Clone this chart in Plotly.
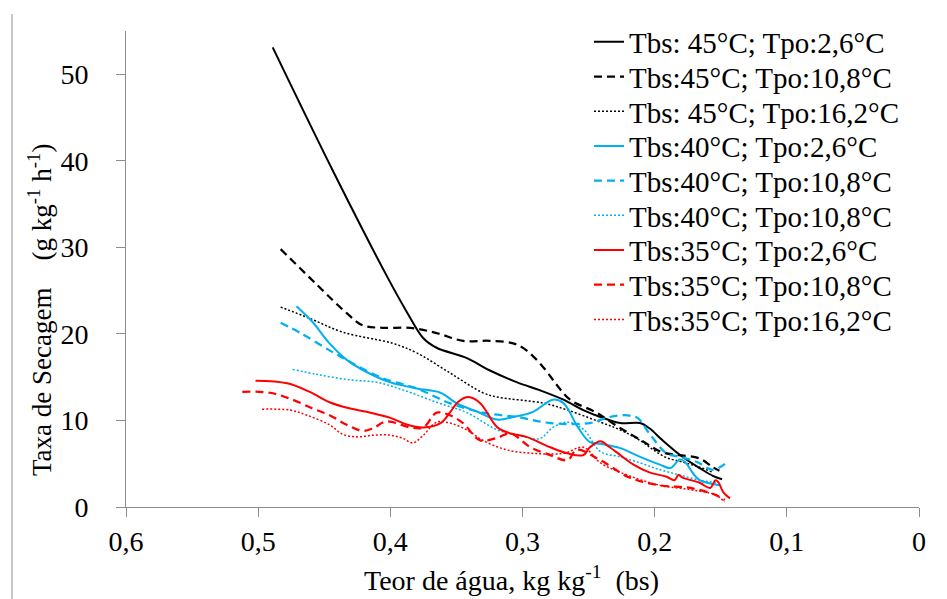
import plotly.graph_objects as go

# ---------------- data ----------------
series_names = [
    "Tbs: 45°C; Tpo:2,6°C",
    "Tbs:45°C; Tpo:10,8°C",
    "Tbs: 45°C; Tpo:16,2°C",
    "Tbs:40°C; Tpo:2,6°C",
    "Tbs:40°C; Tpo:10,8°C",
    "Tbs:40°C; Tpo:10,8°C",
    "Tbs:35°C; Tpo:2,6°C",
    "Tbs:35°C; Tpo:10,8°C",
    "Tbs:35°C; Tpo:16,2°C",
]

x_45_26 = [0.489, 0.443, 0.402, 0.387, 0.375, 0.365, 0.342, 0.325, 0.304, 0.287, 0.269, 0.254,
           0.241, 0.226, 0.211, 0.204, 0.194, 0.179, 0.166, 0.156, 0.149]
y_45_26 = [53.1, 38.7, 26.5, 22.4, 19.5, 18.4, 17.2, 15.8, 14.4, 13.5, 12.4, 11.2,
           10.4, 9.7, 9.7, 9.1, 7.7, 5.8, 4.5, 3.6, 3.2]

x_45_108 = [0.483, 0.455, 0.433, 0.421, 0.406, 0.385, 0.365, 0.345, 0.325, 0.307, 0.297, 0.284,
            0.274, 0.264, 0.244, 0.229, 0.209, 0.194, 0.181, 0.166, 0.156, 0.151]
y_45_108 = [29.8, 25.6, 22.4, 21.0, 20.7, 20.7, 20.1, 19.2, 19.2, 18.9, 18.1, 16.1,
            14.1, 12.4, 10.9, 9.4, 7.6, 6.3, 6.0, 5.6, 4.6, 4.2]

x_45_162 = [0.483, 0.461, 0.436, 0.398, 0.380, 0.355, 0.330, 0.319, 0.284, 0.266, 0.241, 0.226,
            0.209, 0.201, 0.191, 0.179, 0.166, 0.156]
y_45_162 = [23.1, 21.8, 20.2, 18.9, 17.8, 15.5, 13.2, 12.7, 12.0, 11.2, 9.8, 8.9,
            7.5, 6.6, 5.7, 5.2, 4.6, 4.0]

x_40_26 = [0.471, 0.459, 0.446, 0.433, 0.418, 0.400, 0.380, 0.362, 0.350, 0.334, 0.319, 0.307,
           0.292, 0.277, 0.269, 0.258, 0.249, 0.241, 0.226, 0.211, 0.196, 0.188, 0.181, 0.177,
           0.171, 0.166, 0.151]
y_40_26 = [23.2, 21.4, 18.9, 17.0, 15.6, 14.4, 13.7, 13.2, 12.0, 11.0, 10.1, 10.4,
           11.0, 12.4, 12.0, 9.2, 7.5, 7.3, 6.8, 5.8, 4.9, 4.5, 5.5, 5.2,
           3.9, 3.1, 2.5]

x_40_108 = [0.483, 0.468, 0.446, 0.431, 0.406, 0.380, 0.355, 0.330, 0.304, 0.279, 0.249, 0.234,
            0.221, 0.213, 0.204, 0.191, 0.181, 0.168, 0.156, 0.145]
y_40_108 = [21.3, 20.1, 18.1, 16.8, 14.9, 13.7, 12.0, 10.9, 10.4, 9.7, 9.7, 10.4,
            10.6, 10.3, 8.5, 6.2, 5.8, 5.2, 4.3, 5.2]

x_40_108b = [0.474, 0.455, 0.431, 0.410, 0.390, 0.365, 0.342, 0.319, 0.304, 0.287, 0.277, 0.266,
             0.254, 0.241, 0.226, 0.211, 0.196, 0.181, 0.166, 0.153]
y_40_108b = [15.9, 15.3, 14.7, 14.4, 13.5, 12.1, 10.9, 8.9, 8.3, 7.9, 9.2, 9.8,
             9.0, 6.4, 5.8, 5.1, 4.3, 3.7, 3.1, 2.8]

x_35_26 = [0.502, 0.478, 0.461, 0.446, 0.431, 0.415, 0.400, 0.387, 0.375, 0.362, 0.355, 0.349,
           0.341, 0.332, 0.319, 0.309, 0.297, 0.279, 0.266, 0.254, 0.249, 0.241, 0.234, 0.226,
           0.216, 0.204, 0.191, 0.185, 0.182, 0.179, 0.166, 0.158, 0.154, 0.152, 0.148, 0.143]
y_35_26 = [14.6, 14.3, 13.3, 12.1, 11.4, 10.9, 10.3, 9.5, 9.2, 9.7, 10.9, 12.1,
           12.7, 12.0, 9.2, 8.5, 8.1, 6.9, 6.2, 6.0, 6.9, 7.6, 6.9, 6.0,
           4.9, 4.0, 3.5, 3.1, 3.7, 3.4, 2.8, 2.2, 3.1, 2.9, 1.7, 1.0]

x_35_108 = [0.512, 0.491, 0.474, 0.459, 0.446, 0.433, 0.421, 0.413, 0.403, 0.385, 0.375, 0.365,
            0.355, 0.345, 0.332, 0.319, 0.309, 0.294, 0.279, 0.266, 0.259, 0.241, 0.219, 0.196,
            0.173, 0.154, 0.147]
y_35_108 = [13.3, 13.2, 12.4, 11.4, 10.6, 9.5, 8.8, 9.1, 9.9, 9.2, 9.2, 10.9,
            10.6, 9.7, 7.7, 8.0, 8.5, 6.9, 6.0, 5.4, 6.6, 5.4, 3.4, 2.5,
            2.2, 1.4, 0.8]

x_35_162 = [0.497, 0.476, 0.463, 0.446, 0.436, 0.425, 0.413, 0.400, 0.390, 0.383, 0.375, 0.365,
            0.355, 0.342, 0.330, 0.312, 0.292, 0.269, 0.254, 0.241, 0.226, 0.196, 0.173, 0.154,
            0.147]
y_35_162 = [11.3, 11.2, 10.6, 9.5, 8.4, 8.1, 8.3, 8.3, 7.9, 7.4, 8.3, 9.8,
            9.7, 8.9, 7.7, 6.6, 6.2, 6.2, 6.9, 5.1, 4.0, 2.5, 2.0, 1.4,
            0.6]

x_tick_vals = [0.6, 0.5, 0.4, 0.3, 0.2, 0.1, 0.0]
x_tick_text = ["0,6", "0,5", "0,4", "0,3", "0,2", "0,1", "0"]
y_tick_vals = [0, 10, 20, 30, 40, 50]

# ---------------- styling ----------------
BLACK = "#000000"
BLUE = "#00B0F0"
RED = "#FF0000"
DASH = "8px,5px"
DOT = "2px,2px"

xs = [x_45_26, x_45_108, x_45_162, x_40_26, x_40_108, x_40_108b, x_35_26, x_35_108, x_35_162]
ys = [y_45_26, y_45_108, y_45_162, y_40_26, y_40_108, y_40_108b, y_35_26, y_35_108, y_35_162]
colors = [BLACK, BLACK, BLACK, BLUE, BLUE, BLUE, RED, RED, RED]
dashes = ["solid", DASH, DOT] * 3
widths = [2.0, 2.25, 1.5] * 3

FONT = "Liberation Serif, Times New Roman, serif"

# plot area in pixels
W, H = 947, 599
L, R, T, B = 126, 28, 31, 92
plot_h = H - T - B
plot_w = W - L - R

fig = go.Figure()
layout_legends = {}
for i in range(9):
    key = "legend" if i == 0 else f"legend{i + 1}"
    fig.add_trace(go.Scatter(
        x=xs[i], y=ys[i], mode="lines", name=series_names[i],
        line=dict(color=colors[i], dash=dashes[i], width=widths[i], shape="spline", smoothing=1.0),
        legend=key,
    ))
    row_center_px = 42 + i * 34.7
    layout_legends[key] = dict(
        x=(589 - L) / plot_w, xanchor="left",
        y=(H - B - row_center_px) / plot_h, yanchor="middle",
        bgcolor="rgba(0,0,0,0)", borderwidth=0,
        font=dict(family=FONT, size=29, color="#000000"),
        itemwidth=30,
    )

fig.update_layout(
    width=W, height=H,
    margin=dict(l=L, r=R, t=T, b=B),
    paper_bgcolor="white", plot_bgcolor="white",
    font=dict(family=FONT, size=27, color="#000000"),
    showlegend=True,
    **layout_legends,
)

fig.update_xaxes(
    range=[0.6, 0.0], tickvals=x_tick_vals, ticktext=x_tick_text,
    showgrid=False, zeroline=False, showline=True, linecolor="#8c8c8c", linewidth=1,
    ticks="outside", ticklen=9, tickcolor="#8c8c8c", tickwidth=1,
    tickfont=dict(family=FONT, size=28, color="#000000"),
    ticklabelstandoff=0,
)
fig.update_yaxes(
    range=[0, 55], tickvals=y_tick_vals,
    showgrid=False, zeroline=False, showline=True, linecolor="#8c8c8c", linewidth=1,
    ticks="outside", ticklen=9, tickcolor="#8c8c8c", tickwidth=1,
    tickfont=dict(family=FONT, size=28, color="#000000"),
    ticklabelstandoff=22,
)

# axis titles
fig.add_annotation(
    text="Teor de água, kg kg<sup>-1</sup>  (bs)", xref="paper", yref="paper",
    x=(511 - L) / plot_w, y=(H - B - 578) / plot_h, xanchor="center", yanchor="middle",
    showarrow=False, font=dict(family=FONT, size=28, color="#000000"),
)
fig.add_annotation(
    text="Taxa de Secagem\u00a0\u00a0\u00a0\u00a0(g kg<sup>-1</sup> h<sup>-1</sup>)", xref="paper", yref="paper",
    x=(40 - L) / plot_w, y=(H - B - 310) / plot_h, xanchor="center", yanchor="middle",
    textangle=-90, showarrow=False, font=dict(family=FONT, size=27, color="#000000"),
)

# chart-area border (left edge visible in the reference)
fig.add_shape(
    type="line", xref="paper", yref="paper",
    x0=(12 - L) / plot_w, x1=(12 - L) / plot_w,
    y0=(H - B - 14) / plot_h, y1=(H - B - 600) / plot_h,
    line=dict(color="#8c8c8c", width=1),
)

fig.write_html("out.html")
